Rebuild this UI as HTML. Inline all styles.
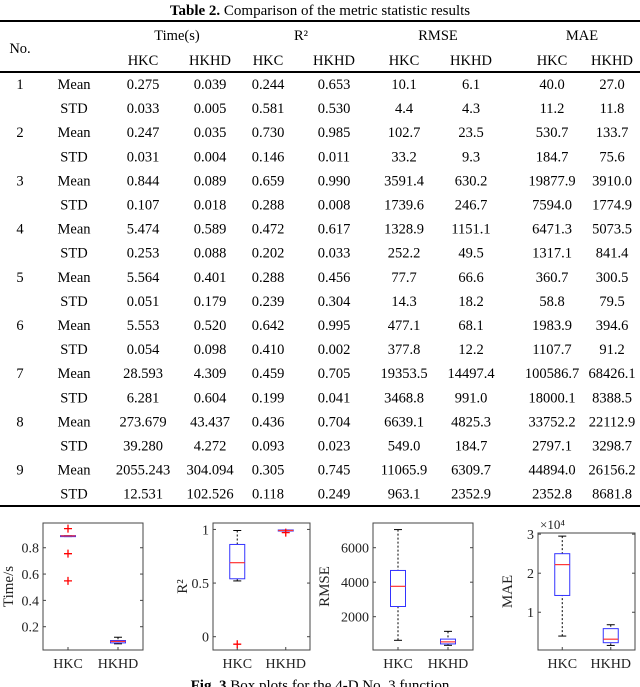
<!DOCTYPE html>
<html><head><meta charset="utf-8"><style>
body{margin:0;background:#fff}
svg{display:block;font-family:"Liberation Serif",serif}
</style></head><body>
<svg id="pg" width="640" height="687" viewBox="0 0 640 687">
<text x="320" y="15" text-anchor="middle" font-size="15"><tspan font-weight="bold">Table 2.</tspan> Comparison of the metric statistic results</text>
<line x1="0" y1="21" x2="640" y2="21" stroke="#000" stroke-width="2"/>
<line x1="0" y1="72" x2="640" y2="72" stroke="#000" stroke-width="2"/>
<line x1="0" y1="506" x2="640" y2="506" stroke="#000" stroke-width="2"/>
<g id="tbl" font-size="14.5" text-anchor="middle"></g>
<g id="plots"></g>
<text x="320" y="690" text-anchor="middle" font-size="15"><tspan font-weight="bold">Fig. 3</tspan> Box plots for the 4-D No. 3 function</text>
</svg>
<script>
const NS="http://www.w3.org/2000/svg";
const groups=["Time(s)","R²","RMSE","MAE"];
const rowsData=[
["1","Mean","0.275","0.039","0.244","0.653","10.1","6.1","40.0","27.0"],
["","STD","0.033","0.005","0.581","0.530","4.4","4.3","11.2","11.8"],
["2","Mean","0.247","0.035","0.730","0.985","102.7","23.5","530.7","133.7"],
["","STD","0.031","0.004","0.146","0.011","33.2","9.3","184.7","75.6"],
["3","Mean","0.844","0.089","0.659","0.990","3591.4","630.2","19877.9","3910.0"],
["","STD","0.107","0.018","0.288","0.008","1739.6","246.7","7594.0","1774.9"],
["4","Mean","5.474","0.589","0.472","0.617","1328.9","1151.1","6471.3","5073.5"],
["","STD","0.253","0.088","0.202","0.033","252.2","49.5","1317.1","841.4"],
["5","Mean","5.564","0.401","0.288","0.456","77.7","66.6","360.7","300.5"],
["","STD","0.051","0.179","0.239","0.304","14.3","18.2","58.8","79.5"],
["6","Mean","5.553","0.520","0.642","0.995","477.1","68.1","1983.9","394.6"],
["","STD","0.054","0.098","0.410","0.002","377.8","12.2","1107.7","91.2"],
["7","Mean","28.593","4.309","0.459","0.705","19353.5","14497.4","100586.7","68426.1"],
["","STD","6.281","0.604","0.199","0.041","3468.8","991.0","18000.1","8388.5"],
["8","Mean","273.679","43.437","0.436","0.704","6639.1","4825.3","33752.2","22112.9"],
["","STD","39.280","4.272","0.093","0.023","549.0","184.7","2797.1","3298.7"],
["9","Mean","2055.243","304.094","0.305","0.745","11065.9","6309.7","44894.0","26156.2"],
["","STD","12.531","102.526","0.118","0.249","963.1","2352.9","2352.8","8681.8"]];
const colX=[20,74,143,210,268,334,404,471,552,612];
const grpX=[177,301,438,582];
function el(tag,attrs,parent,txt){const e=document.createElementNS(NS,tag);for(const k in attrs)e.setAttribute(k,attrs[k]);if(txt!==undefined)e.textContent=txt;parent.appendChild(e);return e;}
const tbl=document.getElementById('tbl');
let t=el('text',{x:20,y:53},tbl,'No.');


groups.forEach((g,i)=>{let e=el('text',{x:grpX[i],y:40},tbl,g);


let a=el('text',{x:colX[2+2*i],y:65},tbl,'HKC');


let b=el('text',{x:colX[3+2*i],y:65},tbl,'HKHD');

});
rowsData.forEach((r,ri)=>{const y=89+ri*24.1;r.forEach((v,ci)=>{if(!v)return;let e=el('text',{x:colX[ci],y:y.toFixed(1)},tbl,v);

});});

// box plot data
const categories=["HKC","HKHD"];
const timeBoxes=[{lo:0.885,q1:0.885,med:0.89,q3:0.892,hi:0.892,out:[0.945,0.755,0.548]},{lo:0.07,q1:0.077,med:0.088,q3:0.095,hi:0.12,out:[]}];
const r2Boxes=[{lo:0.52,q1:0.54,med:0.69,q3:0.86,hi:0.99,out:[-0.07]},{lo:0.985,q1:0.985,med:0.99,q3:0.995,hi:0.995,out:[0.97]}];
const rmseBoxes=[{lo:630,q1:2590,med:3760,q3:4680,hi:7050,out:[]},{lo:340,q1:420,med:540,q3:700,hi:1150,out:[]}];
const maeBoxes=[{lo:0.39,q1:1.43,med:2.22,q3:2.5,hi:2.95,out:[]},{lo:0.15,q1:0.22,med:0.31,q3:0.58,hi:0.68,out:[]}];
const timeTicks=[0.2,0.4,0.6,0.8];
const r2Ticks=[0,0.5,1];
const rmseTicks=[2000,4000,6000];
const maeTicks=[1,2,3];
const panels=[
{name:'time',x0:43,x1:143,y0:523,y1:650,min:0.023,max:0.988,ticks:timeTicks,label:'Time/s',data:timeBoxes,fmt:v=>String(v)},
{name:'r2',x0:213,x1:310,y0:523,y1:650,min:-0.124,max:1.06,ticks:r2Ticks,label:'R²',data:r2Boxes,fmt:v=>String(v)},
{name:'rmse',x0:373,x1:473,y0:523,y1:650,min:68,max:7432,ticks:rmseTicks,label:'RMSE',data:rmseBoxes,fmt:v=>String(v)},
{name:'mae',x0:538,x1:635,y0:533,y1:650,min:0.033,max:3.03,ticks:maeTicks,label:'MAE',data:maeBoxes,fmt:v=>String(v),exp:true}];
const P=document.getElementById('plots');
panels.forEach(p=>{
 const g=el('g',{},P);
 
 
 const ys=v=>p.y1-(v-p.min)/(p.max-p.min)*(p.y1-p.y0);
 const w=p.x1-p.x0;
 const xs=i=>p.x0+w*(0.25+0.5*i);
 let fr=el('rect',{x:p.x0,y:p.y0,width:w,height:p.y1-p.y0,fill:'none',stroke:'#444','stroke-width':1},g);
 
 
 p.ticks.forEach(tv=>{const y=ys(tv);
  el('line',{x1:p.x0,y1:y,x2:p.x0+3,y2:y,stroke:'#444'},g);
  el('line',{x1:p.x1,y1:y,x2:p.x1-3,y2:y,stroke:'#444'},g);
  let tl=el('text',{x:p.x0-4,y:y+5,'text-anchor':'end','font-size':14,fill:'#222'},g,p.fmt(tv));
  
  });
 let yl=el('text',{transform:`translate(${p.x0-(p.name==='rmse'?44:(p.name==='time'?30:26))},${(p.y0+p.y1)/2}) rotate(-90)`,'text-anchor':'middle','font-size':15,fill:'#222'},g,p.label);
 
 
 if(p.exp){let ex=el('text',{x:p.x0+2,y:p.y0-4,'font-size':13,fill:'#222'},g,'×10⁴');
  
  }
 categories.forEach((c,i)=>{const x=xs(i);const d=p.data[i];
  el('line',{x1:x,y1:p.y1,x2:x,y2:p.y1-3,stroke:'#444'},g);
  let cl=el('text',{x:x,y:p.y1+18,'text-anchor':'middle','font-size':14,fill:'#222'},g,c);
  
  
  const bw=15;
  el('line',{x1:x,y1:ys(d.hi),x2:x,y2:ys(d.q3),stroke:'#000','stroke-dasharray':'2,2'},g);
  el('line',{x1:x,y1:ys(d.lo),x2:x,y2:ys(d.q1),stroke:'#000','stroke-dasharray':'2,2'},g);
  el('line',{x1:x-4,y1:ys(d.hi),x2:x+4,y2:ys(d.hi),stroke:'#000'},g);
  el('line',{x1:x-4,y1:ys(d.lo),x2:x+4,y2:ys(d.lo),stroke:'#000'},g);
  let bx=el('rect',{x:x-bw/2,y:ys(d.q3),width:bw,height:Math.max(1,ys(d.q1)-ys(d.q3)),fill:'none',stroke:'#33f'},g);
  
  
  let md=el('line',{x1:x-bw/2,y1:ys(d.med),x2:x+bw/2,y2:ys(d.med),stroke:'#f33','stroke-width':1.2},g);
  
  
  d.out.forEach(o=>{const y=ys(o);
   let pl=el('path',{d:`M${x-4},${y}H${x+4}M${x},${y-4}V${y+4}`,stroke:'#f00','stroke-width':1.3},g);
   
   });
 });
});
</script>
</body></html>
